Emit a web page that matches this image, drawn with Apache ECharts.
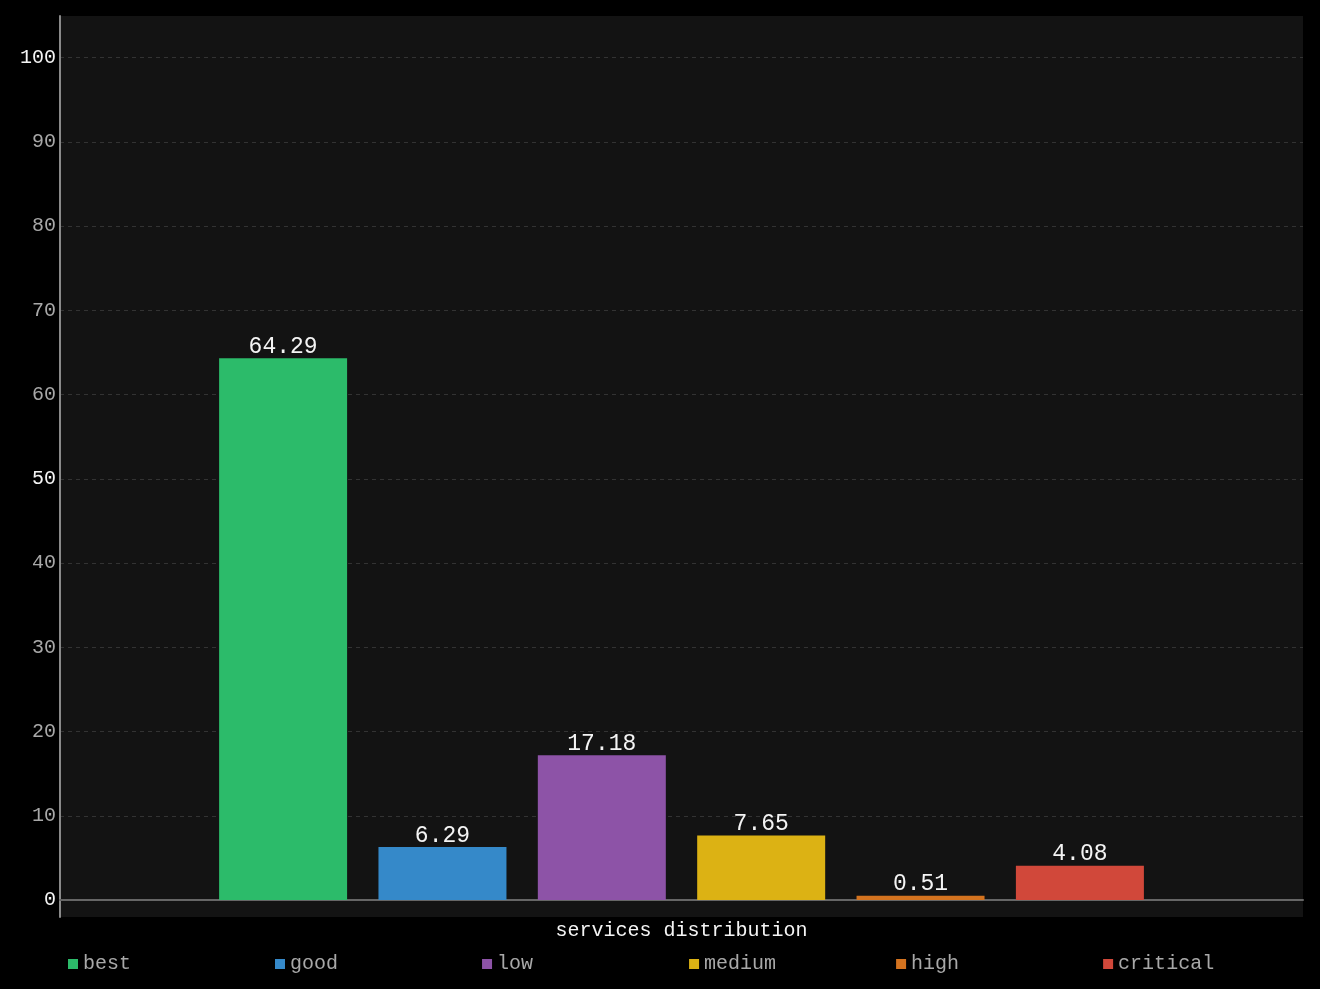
<!DOCTYPE html>
<html>
<head>
<meta charset="utf-8">
<script src="https://cdn.jsdelivr.net/npm/echarts@6/dist/echarts.min.js"></script>
<style>
  html, body { margin: 0; padding: 0; background: #000; }
  #chart { width: 1320px; height: 989px; }
</style>
</head>
<body>
<div id="chart"></div>
<script>
  // data
  const categories = ['services distribution'];
  const seriesNames = ['best', 'good', 'low', 'medium', 'high', 'critical'];
  const seriesValues = [64.29, 6.29, 17.18, 7.65, 0.51, 4.08];
  const seriesColors = ['#2cbb6a', '#3589c9', '#8d53a7', '#dcb214', '#d4731f', '#d1483a'];
  const brightTicks = [0, 50, 100];

  const font = '"Liberation Mono", "DejaVu Sans Mono", monospace';
  const myChart = echarts.init(document.getElementById('chart'));

  let series = [];
  for (let i = 0; i < seriesNames.length; i++) {
    series.push({
      name: seriesNames[i],
      type: 'bar',
      xAxisIndex: 1,
      yAxisIndex: 1,
      barWidth: 128,
      barGap: '24.5%',
      itemStyle: { color: seriesColors[i] },
      label: {
        show: true,
        position: 'top',
        distance: 0,
        color: '#f4f4f4',
        fontFamily: font,
        fontSize: 23
      },
      data: [seriesValues[i]]
    });
  }

  let option = {
    backgroundColor: '#000',
    animation: false,
    color: seriesColors,
    legend: {
      data: seriesNames,
      left: 68,
      top: 954,
      padding: 0,
      icon: 'rect',
      itemWidth: 10,
      itemHeight: 10,
      itemGap: 48,
      // monospace font, so padding names keeps every slot the same width
      formatter: function (name) {
        return name.padEnd(12, ' ');
      },
      textStyle: {
        color: '#a8a8a8',
        fontFamily: font,
        fontSize: 20
      }
    },
    grid: [
      {
        left: 60,
        right: 17,
        top: 16,
        bottom: 72,
        show: true,
        backgroundColor: '#131313',
        borderWidth: 0
      },
      {
        left: 60,
        right: 17,
        top: 57.5,
        bottom: 89
      }
    ],
    xAxis: [
      {
        gridIndex: 0,
        type: 'category',
        show: false,
        data: categories
      },
      {
        gridIndex: 1,
        type: 'category',
        data: categories,
        axisLine: { lineStyle: { color: '#666', width: 2 } },
        axisTick: { show: false },
        axisLabel: {
          color: '#f4f4f4',
          fontFamily: font,
          fontSize: 20,
          margin: 21
        }
      }
    ],
    yAxis: [
      {
        gridIndex: 0,
        type: 'value',
        min: 0,
        max: 1,
        axisLine: { show: true, lineStyle: { color: '#8a8a8a', width: 2 } },
        axisTick: { show: false },
        axisLabel: { show: false },
        splitLine: { show: false }
      },
      {
        gridIndex: 1,
        type: 'value',
        min: 0,
        max: 100,
        interval: 10,
        axisLine: { show: false },
        axisTick: { show: false },
        axisLabel: {
          margin: 4,
          fontFamily: font,
          fontSize: 20,
          formatter: function (v) {
            return brightTicks.indexOf(v) >= 0 ? '{w|' + v + '}' : '{g|' + v + '}';
          },
          rich: {
            w: { color: '#f4f4f4', fontFamily: font, fontSize: 20 },
            g: { color: '#a8a8a8', fontFamily: font, fontSize: 20 }
          }
        },
        splitLine: { lineStyle: { color: '#333', type: [4, 4] } }
      }
    ],
    series: series
  };

  myChart.setOption(option);
  window.addEventListener('resize', function () {
    myChart.resize();
  });
</script>
</body>
</html>
